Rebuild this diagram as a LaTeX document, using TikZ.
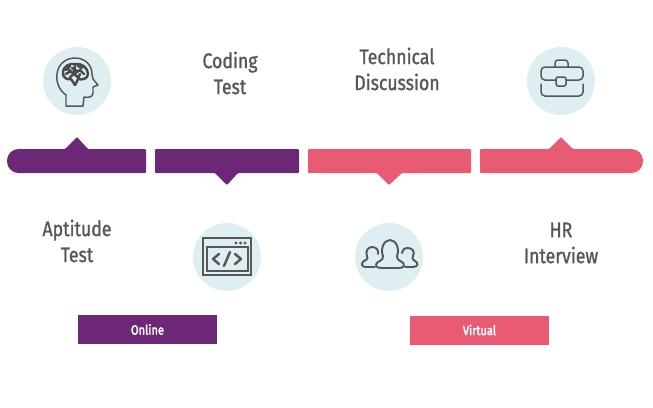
\documentclass[tikz,border=0pt]{standalone}
\usepackage{fontspec}
\setmainfont{Fira Sans}
\usepackage{tikz}
\usetikzlibrary{positioning,calc}
\definecolor{plum}{HTML}{6C2876}
\definecolor{rose}{HTML}{E85B72}
\definecolor{pale}{HTML}{DFEEF1}
\definecolor{ink}{HTML}{55575A}
\newfontfamily\labelfont[FakeStretch=.84,FakeBold=1.2]{Fira Sans}
\newfontfamily\legendfont[FakeStretch=.84,UprightFeatures={FakeBold=2.5}]{Fira Sans}
\begin{document}
\begin{tikzpicture}[x=.02cm,y=-.02cm,
disc/.style={circle,fill=pale,minimum size=1.36cm,inner sep=0},
step label/.style={align=center,text=ink,font=\labelfont\fontsize{12}{14.8}\selectfont},
legend/.style={minimum width=2.78cm,minimum height=.58cm,inner sep=0,text=white,font=\legendfont\fontsize{7.5}{8}\selectfont},
icon/.style={draw=ink,line width=.85pt,line join=round,line cap=round}]
\useasboundingbox (0,0) rectangle (653,407);
% bar segments
\fill[plum,rounded corners=.02cm] (146,149)--(88,149)--(77,137)--(65,149)--(19,149)[rounded corners=.23cm]--(7,149)--(7,173)--(19,173)[rounded corners=.02cm]--(146,173)--cycle;
\fill[plum,rounded corners=.02cm] (155,149)--(299,149)--(299,173)--(238,173)--(227,185)--(215,173)--(155,173)--cycle;
\fill[rose,rounded corners=.02cm] (308,149)--(471,149)--(471,173)--(402,173)--(389,185)--(377,173)--(308,173)--cycle;
\fill[rose,rounded corners=.02cm] (480,149)--(549,149)--(561,137)--(573,149)--(631,149)[rounded corners=.23cm]--(643,149)--(643,173)--(631,173)[rounded corners=.02cm]--(480,173)--cycle;
% discs
\node[disc] (brain) at (77,81) {};
\node[disc] (code) at (227,257) {};
\node[disc] (people) at (389,257) {};
\node[disc] (case) at (561,81) {};
% labels
\node[step label] (aptitude) at (77,241) {Aptitude\\Test};
\node[step label] (coding) at (230,73) {Coding\\Test};
\node[step label] (technical) at (397,69) {Technical\\Discussion};
\node[step label] (hr) at (561,243) {HR\\Interview};
\node[legend,fill=plum] (online) at (147.5,329.5) {Online};
\node[legend,fill=rose] (virtual) at (479.5,330) {Virtual};
% head icon
\draw[icon] (66,106)--(66,95) .. controls (59,90) and (56,82) .. (57,74) .. controls (58,64) and (66,58) .. (75,58) .. controls (85,58) and (92,65) .. (92,74)--(93,79)--(98,85)--(93,87)--(93,93) .. controls (93,97) and (89,98) .. (84,97)--(83,106)--cycle;
\draw[icon,line width=1.4pt,draw=ink!85!black] (63,73) .. controls (63,66) and (70,63) .. (75,64) .. controls (82,63) and (88,68) .. (88,74) .. controls (88,79) and (82,80) .. (78,79)--(75,85)--(71,79) .. controls (66,80) and (63,77) .. (63,73);
\draw[icon,line width=1.4pt,draw=ink!85!black] (68,69)--(74,74)--(70,77) (74,74)--(80,70)--(84,74) (75,65)--(74,74)--(79,78) (66,74)--(71,71) (70,66)--(66,70) (78,66)--(82,68) (72,68)--(77,71) (80,74)--(78,78);
% code window icon
\draw[icon,line width=1.1pt,line cap=butt,line join=miter] (203,238) rectangle (251,275) (207,247) rectangle (248,271);
\fill[ink] (236,243) circle (1.7) (240.5,243) circle (1.7) (245,243) circle (1.7);
\draw[icon,line width=1.4pt] (219,254)--(213,259)--(219,264) (235,254)--(241,259)--(235,264) (230,252)--(224,266);
% people icon
\draw[icon,line width=1.1pt] (381,268) .. controls (375,268) and (375,264) .. (378,262) .. controls (382,260) and (384,258) .. (383,256) .. controls (380,249) and (384,240) .. (390,240) .. controls (396,240) and (400,249) .. (397,256) .. controls (396,258) and (398,260) .. (402,262) .. controls (405,264) and (405,268) .. (399,268)--cycle;
\draw[icon,line width=1.1pt] (375,267)--(366,267) .. controls (361,267) and (361,263) .. (364,261) .. controls (368,259) and (368,258) .. (367,256) .. controls (365,251) and (368,247) .. (372,247) .. controls (376,247) and (379,250) .. (378,254);
\draw[icon,line width=1.1pt] (405,267)--(413,267) .. controls (418,267) and (419,263) .. (415,261) .. controls (412,259) and (412,258) .. (413,256) .. controls (415,252) and (413,248) .. (408,248) .. controls (404,248) and (402,250) .. (402,253);
% briefcase icon
\draw[icon,rounded corners=.08cm] (556,80)--(541,80)--(541,67)--(583,67)--(583,80)--(566,80);
\draw[icon,rounded corners=.08cm] (541,84)--(541,96)--(583,96)--(583,84);
\draw[icon,rounded corners=.04cm] (556,77) rectangle (566,86);
\draw[icon,rounded corners=.06cm] (555,67)--(555,60)--(568,60)--(568,67);
\end{tikzpicture}
\end{document}
